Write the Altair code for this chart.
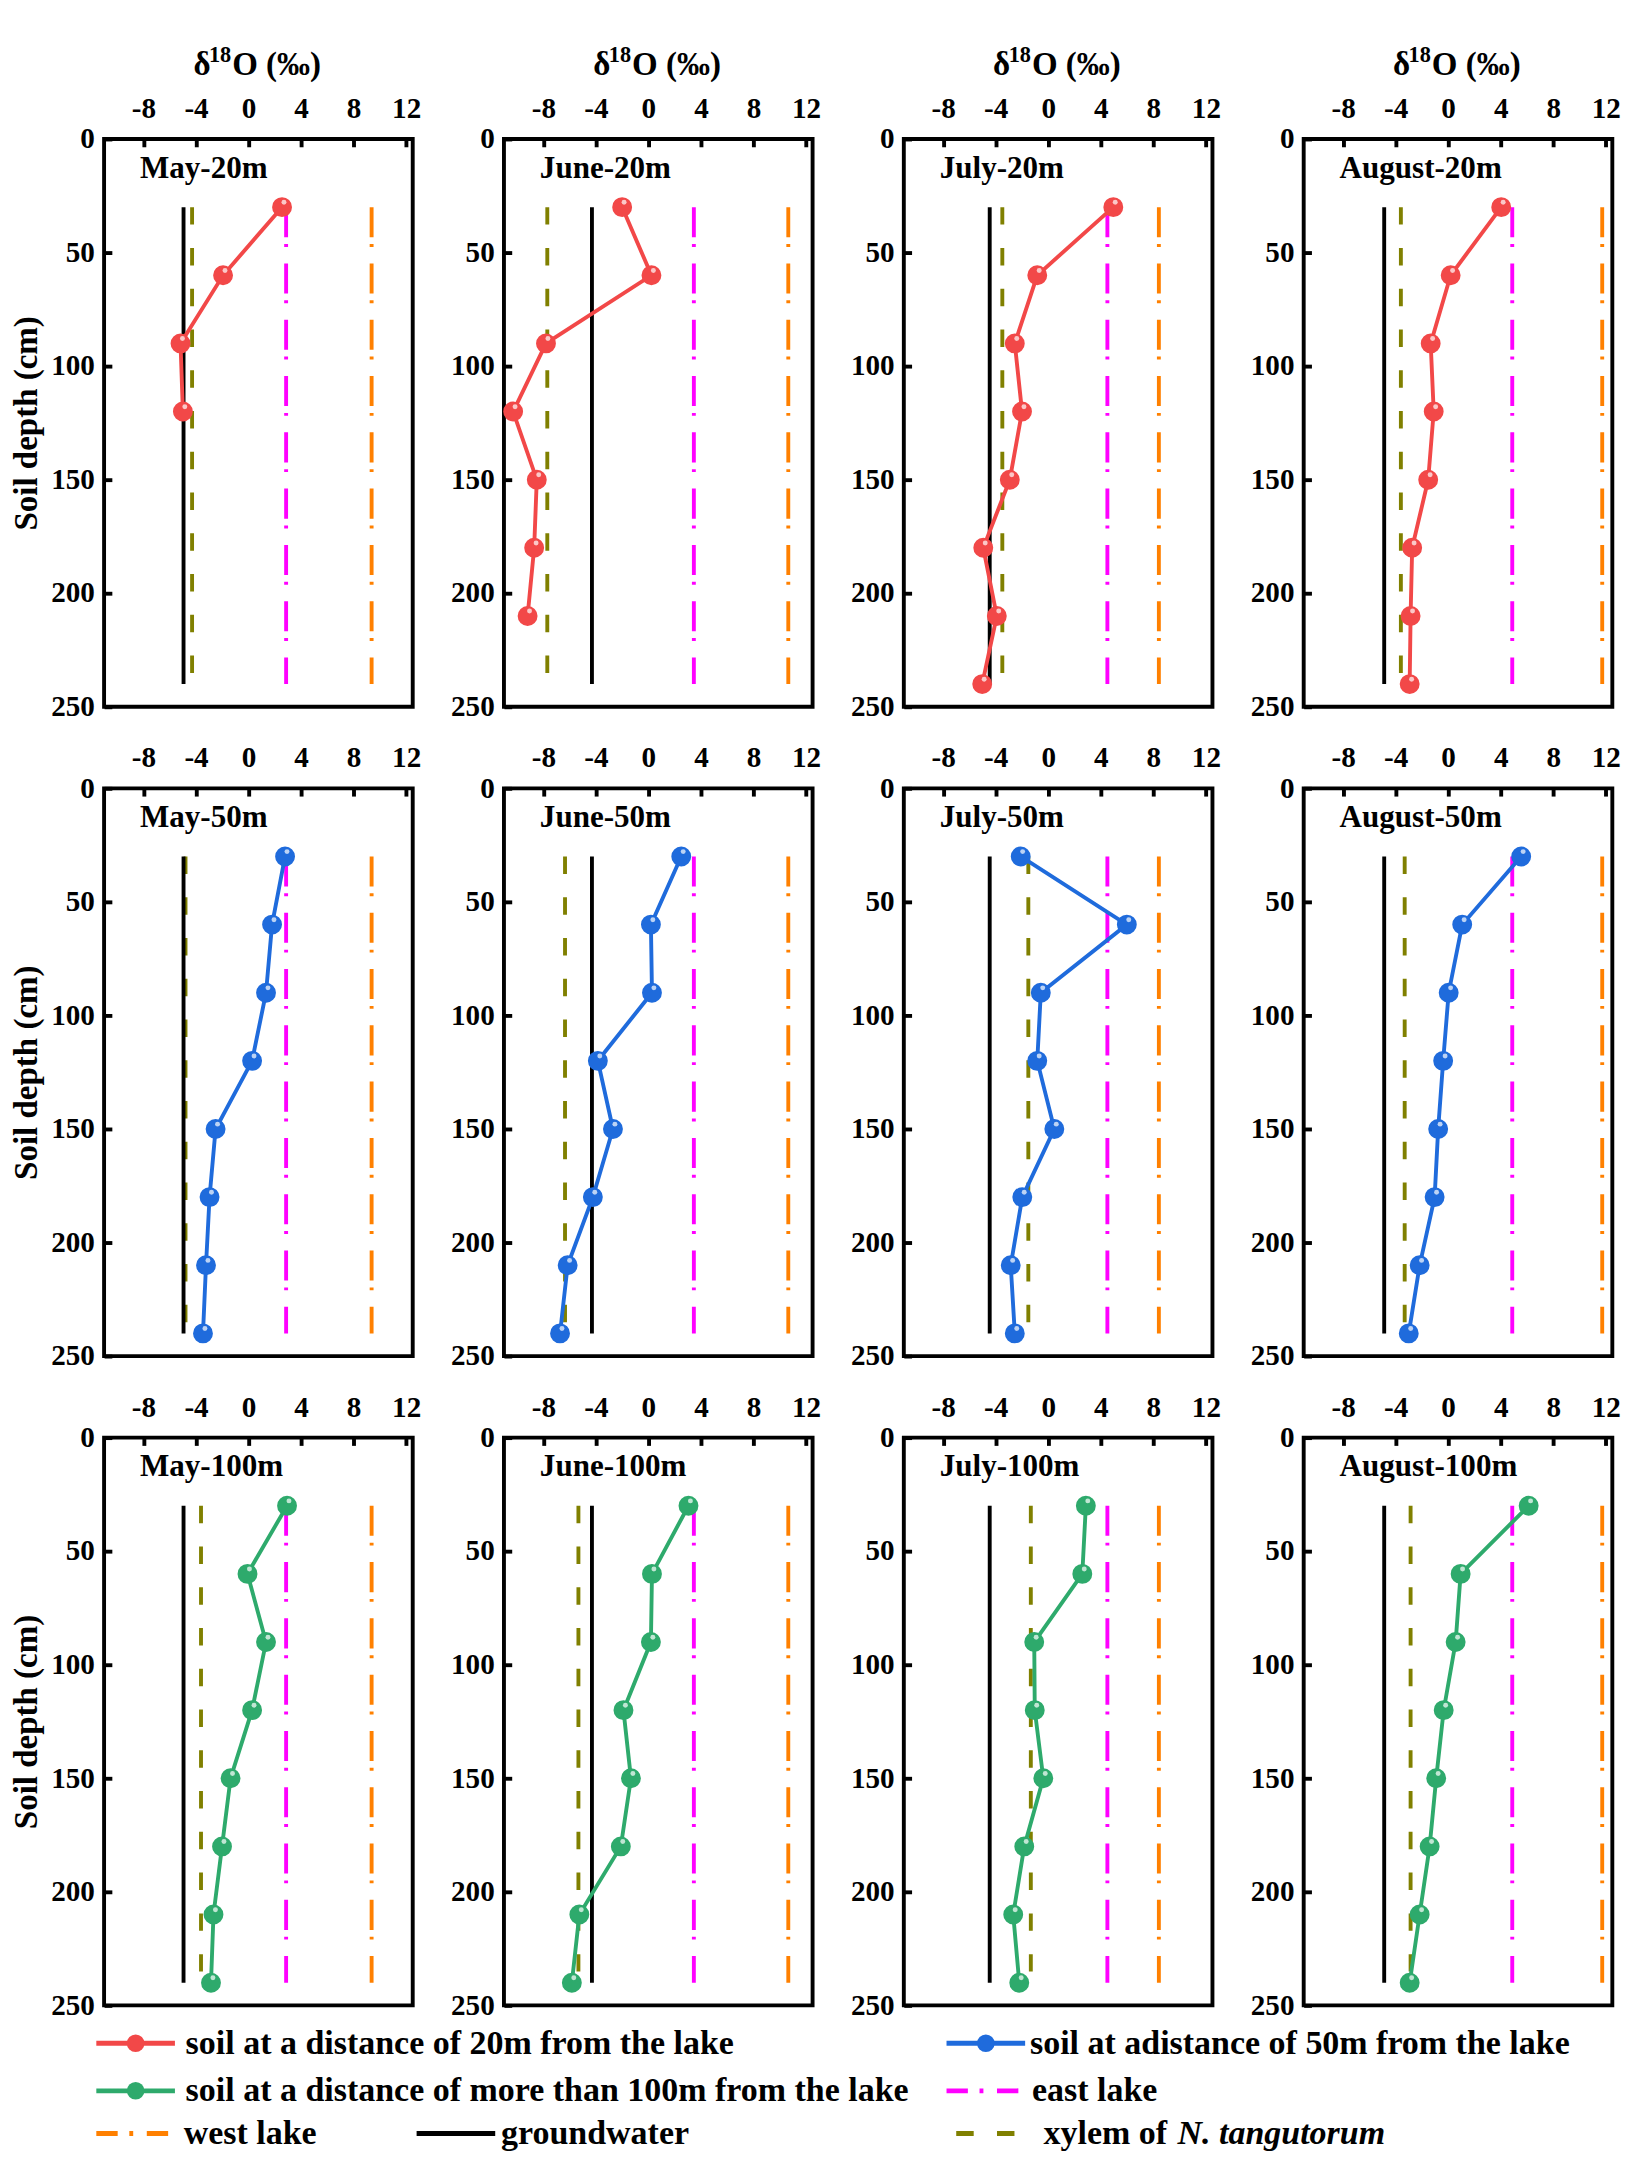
import altair as alt
import pandas as pd

# ---------------- data ----------------
months = ["May", "June", "July", "August"]
distances = ["20m", "50m", "100m"]
depths = [30, 60, 90, 120, 150, 180, 210, 240]

# soil-water d18O (permil) by month and distance from the lake, top to bottom
may_20m = [2.55, -1.94, -5.18, -5.0]
june_20m = [-2.0, 0.23, -7.8, -10.3, -8.5, -8.7, -9.2]
july_20m = [4.95, -0.84, -2.55, -2.0, -2.93, -4.95, -3.92, -5.03]
august_20m = [4.04, 0.19, -1.33, -1.1, -1.52, -2.74, -2.86, -2.93]

may_50m = [2.78, 1.79, 1.33, 0.27, -2.51, -2.97, -3.24, -3.47]
june_50m = [2.5, 0.19, 0.27, -3.85, -2.7, -4.23, -6.15, -6.73]
july_50m = [-2.1, 5.98, -0.57, -0.84, 0.46, -1.98, -2.86, -2.55]
august_50m = [5.56, 1.07, 0.04, -0.38, -0.76, -1.03, -2.17, -3.0]

may_100m = [2.93, -0.08, 1.33, 0.27, -1.37, -2.02, -2.67, -2.86]
june_100m = [3.05, 0.27, 0.19, -1.9, -1.33, -2.1, -5.26, -5.83]
july_100m = [2.86, 2.59, -1.07, -1.03, -0.38, -1.83, -2.67, -2.21]
august_100m = [6.13, 0.95, 0.57, -0.34, -0.91, -1.41, -2.17, -2.93]

# reference water sources, one value per month
east_lake = [2.86, 3.46, 4.5, 4.88]
west_lake = [9.37, 10.65, 8.42, 11.73]
groundwater = [-4.95, -4.3, -4.46, -4.87]
xylem_20m = [-4.3, -7.7, -3.5, -3.6]
xylem_50m = [-4.8, -6.35, -1.52, -3.31]
xylem_100m = [-3.62, -5.33, -1.33, -2.86]
ref_depth_range = [30, 240]

x_ticks = [-8, -4, 0, 4, 8, 12]
y_ticks = [0, 50, 100, 150, 200, 250]
x_domain = [-11, 12.5]
y_domain = [0, 250]

# x-axis title pieces: delta, superscript 18, remainder
x_title_parts = ["δ", "18", "O (‰)"]
y_title = "Soil depth (cm)"

legend_labels = [
    "soil at a distance of 20m from the lake",
    "soil at adistance of 50m from the lake",
    "soil at a distance of more than 100m from the lake",
    "east lake",
    "west lake",
    "groundwater",
    "xylem of ",
]
legend_italic = "N. tangutorum"

soil = {
    ("May", "20m"): may_20m, ("June", "20m"): june_20m,
    ("July", "20m"): july_20m, ("August", "20m"): august_20m,
    ("May", "50m"): may_50m, ("June", "50m"): june_50m,
    ("July", "50m"): july_50m, ("August", "50m"): august_50m,
    ("May", "100m"): may_100m, ("June", "100m"): june_100m,
    ("July", "100m"): july_100m, ("August", "100m"): august_100m,
}
xylem = {"20m": xylem_20m, "50m": xylem_50m, "100m": xylem_100m}

# ---------------- style ----------------
FONT = "Liberation Serif"
soil_colors = {"20m": "#F24848", "50m": "#1F6BDC", "100m": "#2EAA6C"}
C_EAST = "#FF00FF"
C_WEST = "#FF8000"
C_GW = "#000000"
C_XY = "#808000"
DASH_LAKE = [31, 7, 3, 17]
DASH_XY = [18, 24]
PW, PH = 318, 585
TICK_FS = 30


def title_piece(text, x, y, size):
    df = pd.DataFrame({"t": [text]})
    return alt.Chart(df).mark_text(
        align="left", baseline="alphabetic", font=FONT, fontSize=size,
        fontWeight="bold", color="black"
    ).encode(x=alt.value(x), y=alt.value(y), text="t:N")


def panel(mi, di):
    m = months[mi]
    d = distances[di]
    xs = alt.Scale(domain=x_domain, nice=False, zero=False)
    ys = alt.Scale(domain=y_domain, reverse=True, nice=False, zero=False)
    xaxis = alt.Axis(orient="top", values=x_ticks, title=None, labelPadding=16,
                     labelExpr="'' + datum.value")
    yaxis = alt.Axis(
        orient="left", values=y_ticks, title=y_title if mi == 0 else None,
        titlePadding=8, titleFontSize=34, labelPadding=10,
        labelExpr="'' + datum.value",
    )
    X = alt.X("d18O:Q", scale=xs, axis=xaxis)
    Y = alt.Y("depth:Q", scale=ys, axis=yaxis)

    def vrule(val, color, dash, width):
        df = pd.DataFrame({"d18O": [val], "depth": [ref_depth_range[0]],
                           "depth2": [ref_depth_range[1]]})
        mk = dict(color=color, strokeWidth=width)
        if dash:
            mk["strokeDash"] = dash
        return alt.Chart(df).mark_rule(**mk).encode(x=X, y=Y, y2="depth2:Q")

    layers = [
        vrule(west_lake[mi], C_WEST, DASH_LAKE, 4),
        vrule(east_lake[mi], C_EAST, DASH_LAKE, 4),
        vrule(xylem[d][mi], C_XY, DASH_XY, 4),
        vrule(groundwater[mi], C_GW, None, 4),
    ]
    vals = soil[(m, d)]
    sdf = pd.DataFrame({"depth": depths[:len(vals)], "d18O": vals})
    col = soil_colors[d]
    base = alt.Chart(sdf).encode(x=X, y=Y)
    layers.append(base.mark_line(color=col, strokeWidth=4).encode(order="depth:Q"))
    layers.append(base.mark_circle(color=col, size=420, opacity=1))
    layers.append(base.mark_circle(color="white", size=26, opacity=0.7,
                                   xOffset=2, yOffset=-5))
    lab = pd.DataFrame({"lab": [f"{m}-{d}"]})
    layers.append(
        alt.Chart(lab).mark_text(align="left", baseline="middle", font=FONT,
                                 fontSize=32, fontWeight="bold", color="black")
        .encode(x=alt.value(37), y=alt.value(30), text="lab:N")
    )
    if di == 0:
        layers.append(title_piece(x_title_parts[0], 92, -66, 34))
        layers.append(title_piece(x_title_parts[1], 108, -79, 23))
        layers.append(title_piece(x_title_parts[2], 132, -66, 34))
    return alt.layer(*layers).properties(width=PW, height=PH)


rows = []
for di in range(3):
    rows.append(alt.hconcat(*[panel(mi, di) for mi in range(4)], spacing=26))
grid = alt.vconcat(*rows, spacing=19)

# ---------------- custom legend ----------------
leg_keys = ["20m", "50m", "100m", "east", "west", "gw", "xylem"]
leg_colors = [soil_colors["20m"], soil_colors["50m"], soil_colors["100m"],
              C_EAST, C_WEST, C_GW, C_XY]
leg_dashes = [[1, 0], [1, 0], [1, 0], [22, 12, 4, 14], [22, 12, 4, 14], [1, 0], [18, 24]]
# layout of the legend (pixels inside the legend area)
leg_x0 = [-8, 868, -8, 868, -8, 322, 878]
leg_x1 = [73, 949, 73, 946, 68, 403, 938]
leg_xt = [84, 954, 84, 956, 82, 409, 968]
leg_y = [15, 15, 64, 64, 108, 108, 108]

ldf = pd.DataFrame({"key": leg_keys, "x0": leg_x0, "x1": leg_x1, "xt": leg_xt,
                    "y": leg_y, "label": legend_labels})
ldf["xc"] = (ldf["x0"] + ldf["x1"]) / 2
LX = alt.X("x0:Q", scale=None, axis=None)
LY = alt.Y("y:Q", scale=None, axis=None)
lcol = alt.Color("key:N", scale=alt.Scale(domain=leg_keys, range=leg_colors), legend=None)
ldash = alt.StrokeDash("key:N", scale=alt.Scale(domain=leg_keys, range=leg_dashes),
                       legend=None)
lbase = alt.Chart(ldf)
leg_rules = lbase.mark_rule(strokeWidth=5).encode(x=LX, x2="x1:Q", y=LY,
                                                  color=lcol, strokeDash=ldash)
leg_pts = alt.Chart(ldf.iloc[:3]).mark_circle(size=330, opacity=1).encode(
    x=alt.X("xc:Q", scale=None, axis=None), y=LY, color=lcol)
leg_txt = lbase.mark_text(align="left", baseline="middle", font=FONT, fontSize=35,
                          fontWeight="bold", color="black").encode(
    x=alt.X("xt:Q", scale=None, axis=None), y=LY, text="label:N")
it_df = pd.DataFrame({"x": [leg_xt[6] + 138], "y": [leg_y[6]], "t": [legend_italic]})
leg_it = alt.Chart(it_df).mark_text(align="left", baseline="middle", font=FONT,
                                    fontSize=35, fontWeight="bold", fontStyle="italic",
                                    color="black").encode(
    x=alt.X("x:Q", scale=None, axis=None), y=alt.Y("y:Q", scale=None, axis=None),
    text="t:N")
legend = alt.layer(leg_rules, leg_pts, leg_txt, leg_it).properties(
    width=1470, height=120, view=alt.ViewBackground(strokeOpacity=0, strokeWidth=0)
)

chart = alt.vconcat(grid, legend, spacing=5).properties(
    padding={"left": 0, "top": 3, "right": 0, "bottom": 0}
).configure_view(
    stroke="black", strokeWidth=4
).configure_axis(
    domain=False, grid=False, ticks=True, tickColor="black", tickWidth=4,
    tickSize=8, offset=-8, labelFlush=False, labelOverlap=False,
    labelFont=FONT, labelFontSize=TICK_FS, labelFontWeight="bold", labelColor="black",
    titleFont=FONT, titleFontWeight="bold", titleColor="black",
).configure_concat(spacing=20)

chart.save("out.html", embed_options={"renderer": "svg", "actions": False})
